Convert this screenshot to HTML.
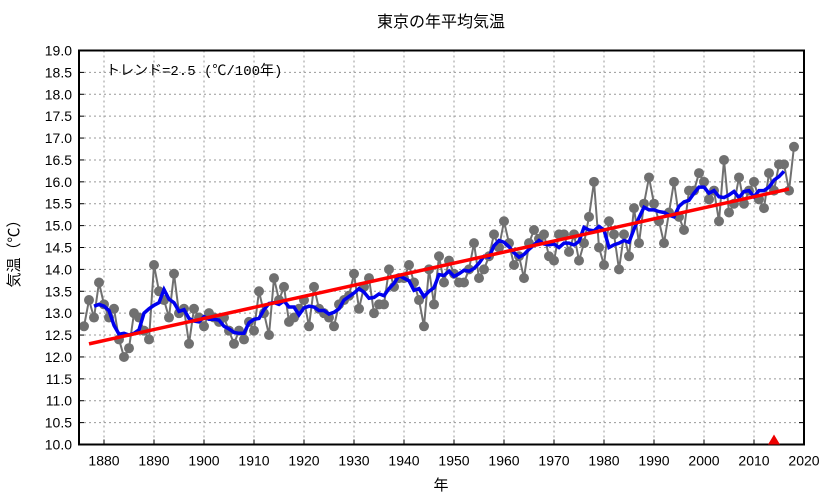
<!DOCTYPE html>
<html><head><meta charset="utf-8"><style>
body{margin:0;background:#fff;}
svg{display:block;font-family:"Liberation Sans","Noto Sans CJK JP",sans-serif;}
</style></head><body>
<svg id="chart" width="833" height="498"></svg>
<script>
const years=[];for(let y=1876;y<=2018;y++)years.push(y);
const temps=[12.7,13.3,12.9,13.7,13.2,12.9,13.1,12.4,12.0,12.2,13.0,12.9,12.6,12.4,14.1,13.5,13.3,12.9,13.9,13.0,13.1,12.3,13.1,12.9,12.7,13.0,12.9,12.8,12.9,12.6,12.3,12.6,12.4,12.8,12.6,13.5,13.0,12.5,13.8,13.3,13.6,12.8,12.9,13.1,13.3,12.7,13.6,13.1,13.0,12.9,12.7,13.2,13.3,13.4,13.9,13.1,13.6,13.8,13.0,13.2,13.2,14.0,13.6,13.8,13.8,14.1,13.7,13.3,12.7,14.0,13.2,14.3,13.7,14.2,13.9,13.7,13.7,14.0,14.6,13.8,14.0,14.3,14.8,14.5,15.1,14.6,14.1,14.3,13.8,14.6,14.9,14.7,14.8,14.3,14.2,14.8,14.8,14.4,14.8,14.2,14.6,15.2,16.0,14.5,14.1,15.1,14.8,14.0,14.8,14.3,15.4,14.6,15.5,16.1,15.5,15.1,14.6,15.3,16.0,15.2,14.9,15.8,15.8,16.2,16.0,15.6,15.8,15.1,16.5,15.3,15.5,16.1,15.5,15.8,16.0,15.6,15.4,16.2,15.8,16.4,16.4,15.8,16.8];
const yTicks=[10.0,10.5,11.0,11.5,12.0,12.5,13.0,13.5,14.0,14.5,15.0,15.5,16.0,16.5,17.0,17.5,18.0,18.5,19.0];
const xTicks=[1880,1890,1900,1910,1920,1930,1940,1950,1960,1970,1980,1990,2000,2010,2020];
const markerYear=[2014];

const NS="http://www.w3.org/2000/svg";
const svg=document.getElementById('chart');
const L=79,R=804,T=50.5,B=444.5;
const X=y=>L+(y-1875)*(R-L)/145;
const Y=v=>B-(v-10)*(B-T)/9;
function mk(tag,attrs,parent){const e=document.createElementNS(NS,tag);for(const k in attrs)e.setAttribute(k,attrs[k]);(parent||svg).appendChild(e);return e;}

// grid
const grid=mk('g',{});


yTicks.forEach(v=>{mk('line',{x1:L,x2:R,y1:Y(v),y2:Y(v),stroke:'#999','stroke-dasharray':'2,3','stroke-width':1},grid);
 const t=mk('text',{x:L-7,y:Y(v)+5,'text-anchor':'end','font-size':14,fill:'#000'});t.textContent=v.toFixed(1);
 
 
 mk('line',{x1:L,x2:L+5,y1:Y(v),y2:Y(v),stroke:'#000'});mk('line',{x1:R,x2:R-5,y1:Y(v),y2:Y(v),stroke:'#000'});});
xTicks.forEach(v=>{mk('line',{x1:X(v),x2:X(v),y1:T,y2:B,stroke:'#999','stroke-dasharray':'2,3','stroke-width':1},grid);
 const t=mk('text',{x:X(v),y:B+21,'text-anchor':'middle','font-size':14,fill:'#000'});t.textContent=v;
 
 
 mk('line',{x1:X(v),x2:X(v),y1:B,y2:B-5,stroke:'#000'});});

// annual series
const pts=years.map((y,i)=>X(y)+','+Y(temps[i])).join(' ');
const line=mk('polyline',{points:pts,fill:'none',stroke:'#707070','stroke-width':2});


years.forEach((y,i)=>{const c=mk('circle',{cx:X(y),cy:Y(temps[i]),r:5,fill:'#707070'});
 
 });

// 5-year running mean
const rm=[];for(let i=2;i<temps.length-2;i++){let s=0;for(let j=-2;j<=2;j++)s+=temps[i+j];rm.push(X(years[i])+','+Y(s/5));}
const blue=mk('polyline',{points:rm.join(' '),fill:'none',stroke:'#0000ee','stroke-width':3.5});



// trend (least squares)
const n=years.length;const mx=years.reduce((a,b)=>a+b)/n,my=temps.reduce((a,b)=>a+b)/n;
let sxy=0,sxx=0;years.forEach((y,i)=>{sxy+=(y-mx)*(temps[i]-my);sxx+=(y-mx)*(y-mx);});
const sl=sxy/sxx;const f=y=>my+sl*(y-mx);
const red=mk('line',{x1:X(1877),y1:Y(f(1877)),x2:X(2017),y2:Y(f(2017)),stroke:'#ff0000','stroke-width':3.5});



// frame
const fr=mk('rect',{x:L,y:T,width:R-L,height:B-T,fill:'none',stroke:'#000','stroke-width':2});



// marker triangle
markerYear.forEach(y=>{const tr=mk('polygon',{points:`${X(y)-6},${B} ${X(y)+6},${B} ${X(y)},${B-10}`,fill:'#ee0000'});
 
 });

// texts
let t=mk('text',{x:441,y:27,'text-anchor':'middle','font-size':16});t.textContent='東京の年平均気温';


t=mk('text',{x:106,y:75,'font-size':14,'font-family':'"Liberation Mono","Noto Sans CJK JP",monospace'});t.textContent='トレンド=2.5 (℃/100年)';


t=mk('text',{x:441,y:490,'text-anchor':'middle','font-size':15});t.textContent='年';


t=mk('text',{x:0,y:0,'text-anchor':'middle','font-size':15,transform:'translate(19,250) rotate(-90)'});t.textContent='気温（℃）';


</script>
</body></html>
